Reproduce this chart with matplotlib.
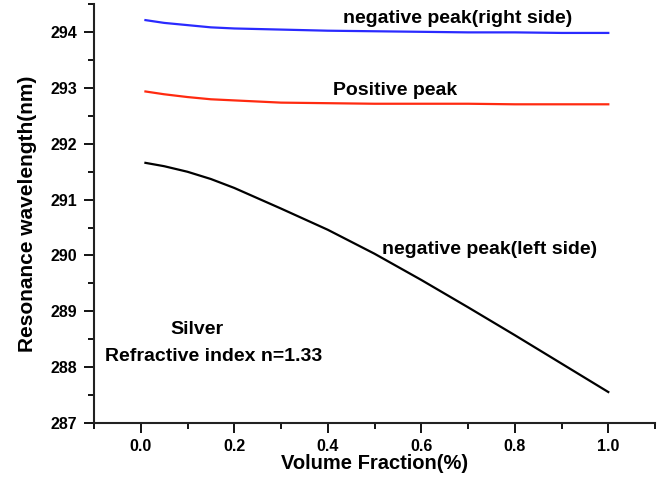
import matplotlib

matplotlib.use("Agg")

import matplotlib.pyplot as plt
from matplotlib.ticker import MultipleLocator

plt.rcParams["font.family"] = ["Liberation Sans", "DejaVu Sans"]
plt.rcParams["font.weight"] = "bold"

volume_fraction = [0.01, 0.05, 0.1, 0.15, 0.2, 0.3, 0.4, 0.5, 0.6, 0.7, 0.8, 0.9, 1.0]
neg_peak_right = [294.22, 294.17, 294.13, 294.09, 294.07, 294.05, 294.03, 294.02, 294.01, 294.00, 294.00, 293.99, 293.99]
pos_peak = [292.94, 292.89, 292.84, 292.80, 292.78, 292.74, 292.73, 292.72, 292.72, 292.72, 292.71, 292.71, 292.71]
neg_peak_left = [291.66, 291.60, 291.50, 291.37, 291.21, 290.84, 290.46, 290.03, 289.56, 289.07, 288.57, 288.06, 287.55]

fig = plt.figure(figsize=(6.63, 4.78), dpi=100)
ax = fig.add_axes([0.1418, 0.1157, 0.8462, 0.8749])

ax.plot(volume_fraction, neg_peak_right, color="#2a2aff", linewidth=1.6)
ax.plot(volume_fraction, pos_peak, color="#ff2a10", linewidth=1.6)
ax.plot(volume_fraction, neg_peak_left, color="black", linewidth=1.6)

ax.set_xlim(-0.1, 1.1)
ax.set_ylim(287, 294.5)
ax.xaxis.set_major_locator(MultipleLocator(0.2))
ax.xaxis.set_minor_locator(MultipleLocator(0.1))
ax.yaxis.set_major_locator(MultipleLocator(1))
ax.yaxis.set_minor_locator(MultipleLocator(0.5))
ax.xaxis.set_major_formatter(plt.FormatStrFormatter("%.1f"))

for side in ("top", "right"):
    ax.spines[side].set_visible(False)
for side in ("left", "bottom"):
    ax.spines[side].set_linewidth(1.5)
    ax.spines[side].set_color("#222222")

ax.tick_params(which="major", direction="out", length=7, width=1.3, labelsize=11.5, pad=5)
ax.tick_params(which="minor", direction="out", length=4, width=1.3)
for lbl in ax.get_xticklabels() + ax.get_yticklabels():
    lbl.set_fontweight("bold")

ax.set_xlabel("Volume Fraction(%)", fontsize=14.5, fontweight="bold", labelpad=0)
ax.set_ylabel("Resonance wavelength(nm)", fontsize=15, fontweight="bold", labelpad=10)

ax.text(0.677, 294.25, "negative peak(right side)", fontsize=14, fontweight="bold", ha="center", va="center")
ax.text(0.544, 292.95, "Positive peak", fontsize=14, fontweight="bold", ha="center", va="center")
ax.text(0.746, 290.11, "negative peak(left side)", fontsize=14, fontweight="bold", ha="center", va="center")
ax.text(0.12, 288.68, "Silver", fontsize=14, fontweight="bold", ha="center", va="center")
ax.text(0.156, 288.19, "Refractive index n=1.33", fontsize=14, fontweight="bold", ha="center", va="center")

fig.savefig("out.png", dpi=100)
